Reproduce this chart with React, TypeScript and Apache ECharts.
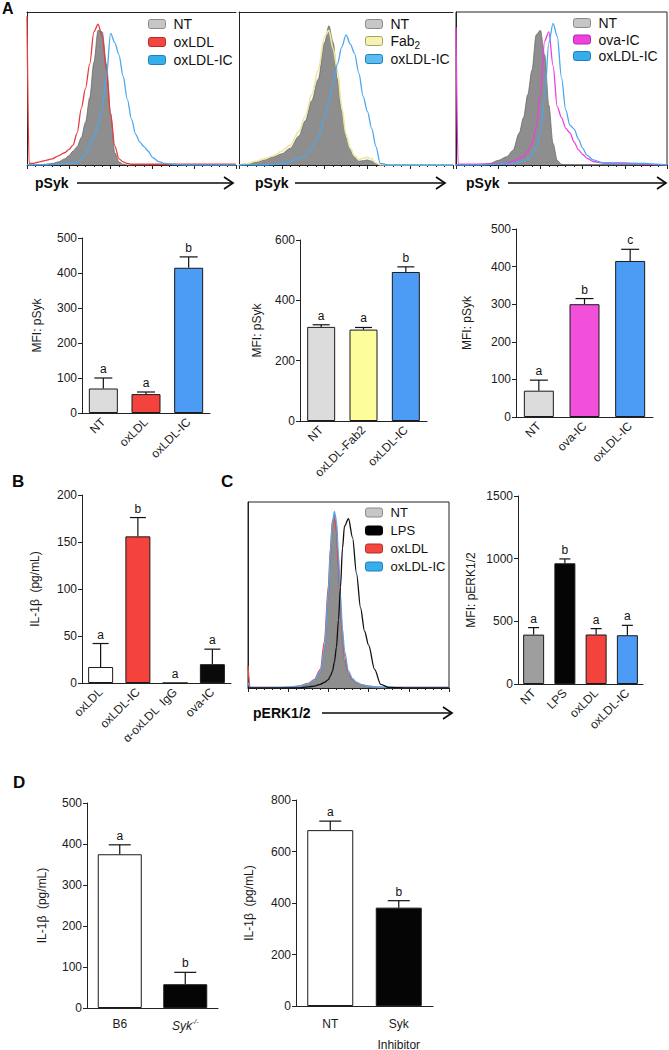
import React, { useEffect, useRef } from "react";
import * as echarts from "echarts";

const FONT = "'Liberation Sans', Arial, Helvetica, sans-serif";

// ---------------- Panel A flow histograms (x: channel, % of axis; y: % of max count) -------------
const a1X = [0, 1, 3, 6, 9, 12, 15, 18, 20, 22, 24, 26, 28, 30, 32, 34, 36, 38, 40, 42, 44, 46, 48, 50, 52, 54, 56, 58, 60, 63, 66, 70, 75, 80, 90, 100];
const a1NT = [0, 0, 0, 0.3, 0.5, 1, 2, 4, 6, 9, 12, 18, 28, 44, 67, 88, 87, 66, 34, 8, 2, 0.5, 0, 0, 0, 0, 0, 0, 0, 0, 0, 0, 0, 0, 0, 0];
const a1OxLDL = [97, 1, 1, 2, 3, 4, 6, 8, 10, 13, 21, 37, 50, 66, 87, 92, 84, 62, 33, 12.5, 4, 2, 1, 0.5, 0.5, 0.5, 0.5, 0.5, 0.5, 0.5, 0.5, 0.5, 0.5, 0.5, 0.5, 0.5];
const a1OxLDLIC = [0, 0, 0, 0, 0, 0.2, 0.5, 1, 1.2, 1.6, 2, 4, 7, 12, 18, 26, 37, 58, 86, 80, 72, 58, 43, 30, 20, 15, 12, 9, 5, 2.2, 1, 0.5, 0, 0, 0, 0];

const a2X = [0, 4, 8, 12, 16, 20, 24, 28, 31, 34, 37, 40, 42, 44, 46, 48, 50, 52, 54, 56, 58, 60, 62, 64, 66, 70, 80, 100];
const a2NT = [0, 0.8, 2, 3.5, 5.2, 7.3, 11, 19, 29, 42, 56, 80, 91, 80, 56, 35, 18, 10, 5, 2.5, 2.8, 3.3, 2.5, 1, 0, 0, 0, 0];
const a2Fab2 = [0, 1, 2.5, 4, 6, 9, 13, 22, 32, 46, 62, 84, 88, 76, 62, 38, 20, 11, 6, 3.5, 4.5, 5, 4, 1.5, 0, 0, 0, 0];
const a2OxLDLIC = [0, 0, 0, 0, 0.3, 1, 2.5, 4.5, 6, 11, 18, 31, 41, 53, 66, 77, 85, 79, 73, 60, 45, 35, 24, 12, 1, 0, 0, 0];

const a3X = [0, 1, 4, 8, 12, 16, 20, 24, 27, 30, 32, 34, 36, 38, 40, 42, 44, 46, 48, 50, 52, 54, 56, 58, 60, 62, 65, 70, 75, 80, 85, 90, 95, 100];
const a3NT = [0, 0, 0, 0, 0.5, 1, 3, 5.4, 9.5, 21, 31, 46, 62, 85, 88, 72, 39, 14, 3, 0.5, 0, 0, 0, 0, 0, 0, 0, 0, 0, 0, 0, 0, 0, 0];
const a3OvaIC = [90, 0.5, 0.5, 0.5, 0.5, 0.5, 0.8, 1, 2.5, 4.5, 5.5, 9, 14, 24, 46, 81, 87, 65, 38, 31, 24, 21, 15, 10, 7, 4.5, 2.3, 1.3, 1.3, 1.4, 1, 0.6, 0.3, 0];
const a3OxLDLIC = [0, 0, 0, 0, 0, 0.2, 0.5, 0.8, 1, 1.8, 2.5, 4, 7, 11, 22, 44, 80, 92.5, 84, 57, 36, 26, 23.5, 17, 11, 6.5, 3.3, 1.3, 1, 0.9, 1, 1.1, 0.5, 0];

// ---------------- Panel C flow histogram (pERK1/2) ----------------
const cX = [0, 1, 5, 10, 15, 20, 25, 30, 33, 36, 38, 40, 41, 42, 43, 44, 45, 46, 47, 48, 50, 52, 54, 56, 58, 60, 63, 66, 70, 80, 90, 100];
const cNT = [0, 0, 0, 0, 0, 0.2, 0.6, 1.8, 3.5, 8.5, 21, 50, 71, 86.5, 93, 87, 66, 42, 25, 15, 7, 4, 2.5, 1.5, 1, 0.5, 0, 0, 0, 0, 0, 0];
const cLPS = [0, 0, 0, 0, 0, 0, 0, 0.6, 1, 2, 3, 4.5, 6.5, 9, 14, 22, 36.5, 54, 75, 87, 91, 81, 61.5, 43, 30.5, 23, 10, 2, 0.3, 0, 0, 0];
const cOxLDL = [12, 0.3, 0.3, 0.3, 0.3, 0.4, 1, 2.5, 4.5, 10, 25, 55, 75, 90, 91, 84, 65, 45, 28, 17, 8, 4.5, 3, 2, 1.3, 1, 0.6, 0.4, 0.3, 0.3, 0.3, 0.3];
const cOxLDLIC = [3, 0.3, 0.3, 0.3, 0.3, 0.5, 1, 2.2, 4, 9, 21, 52, 73, 89, 95, 90, 72, 50, 32, 20, 9, 5, 3, 2, 1.5, 1, 0.6, 0.4, 0.4, 0.3, 0.3, 0.3];

// ---------------- Bar charts ----------------
const a1Cats = ["NT", "oxLDL", "oxLDL-IC"];
const a1Vals = [70, 54, 415];
const a1Errs = [30, 6, 31];
const a1Letters = ["a", "a", "b"];

const a2Cats = ["NT", "oxLDL-Fab2", "oxLDL-IC"];
const a2Vals = [312, 303, 494];
const a2Errs = [7, 7, 17];
const a2Letters = ["a", "a", "b"];

const a3Cats = ["NT", "ova-IC", "oxLDL-IC"];
const a3Vals = [70, 300, 415];
const a3Errs = [28, 15, 31];
const a3Letters = ["a", "b", "c"];

const bCats = ["oxLDL", "oxLDL-IC", "α-oxLDL  IgG", "ova-IC"];
const bVals = [17, 156, 0, 20];
const bErrs = [25, 20, 0, 16];
const bLetters = ["a", "b", "a", "a"];

const cCats = ["NT", "LPS", "oxLDL", "oxLDL-IC"];
const cVals = [394, 963, 395, 389];
const cErrs = [56, 35, 47, 79];
const cLetters = ["a", "b", "a", "a"];

const d1Cats = ["B6", "Syk-/-"];
const d1Vals = [375, 58];
const d1Errs = [23, 29];
const d1Letters = ["a", "b"];

const d2Cats = ["NT", "Syk\nInhibitor"];
const d2Vals = [683, 382];
const d2Errs = [35, 27];
const d2Letters = ["a", "b"];

const LABELS: Record<string, string> = {
  "h1-NT": "NT", "h1-ox": "oxLDL", "h1-ic": "oxLDL-IC",
  "h2-NT": "NT", "h2-fab": "{n|Fab}{s|2}", "h2-ic": "oxLDL-IC",
  "h3-NT": "NT", "h3-ova": "ova-IC", "h3-ic": "oxLDL-IC",
  "hc-NT": "NT", "hc-lps": "LPS", "hc-ox": "oxLDL", "hc-ic": "oxLDL-IC",
};

function buildOption() {
  const grid: any[] = [];
  const xAxis: any[] = [];
  const yAxis: any[] = [];
  const series: any[] = [];
  const legend: any[] = [];
  const AX = "#222";
  const tickLabel = { fontSize: 12, color: "#1a1a1a", fontFamily: FONT };

  const addHist = (g: any, xs: number[], curves: any[], openBox: boolean, leg: any) => {
    const gi = grid.length;
    grid.push({ left: g.l, top: g.t, width: g.w, height: g.h, show: !openBox, borderColor: AX, borderWidth: 1, containLabel: false, outerBoundsMode: "none" });
    const xi = xAxis.length;
    xAxis.push({
      type: "value", gridIndex: gi, min: 0, max: 100, interval: 20,
      axisLine: { show: true, onZero: false, lineStyle: { color: AX, width: 1 } },
      axisTick: { show: true, inside: false, length: 4, lineStyle: { color: AX } },
      minorTick: { show: true, splitNumber: 5, length: 2, lineStyle: { color: AX } },
      axisLabel: { show: false }, splitLine: { show: false }, minorSplitLine: { show: false },
    });
    if (openBox) {
      xAxis.push({
        type: "value", gridIndex: gi, position: "top", min: 0, max: 100,
        axisLine: { show: true, onZero: false, lineStyle: { color: AX, width: 1 } },
        axisTick: { show: false }, axisLabel: { show: false }, splitLine: { show: false },
      });
    }
    const yi = yAxis.length;
    yAxis.push({
      type: "value", gridIndex: gi, min: 0, max: 100,
      axisLine: { show: true, onZero: false, lineStyle: { color: AX, width: 1 } },
      axisTick: { show: false }, axisLabel: { show: false }, splitLine: { show: false },
    });
    curves.forEach((c) => {
      series.push({
        type: "line", name: c.id, xAxisIndex: xi, yAxisIndex: yi,
        data: xs.map((x, i) => [x, c.data[i]]),
        showSymbol: false, symbol: "none", smooth: 0.3, smoothMonotone: "x",
        lineStyle: { color: c.line, width: c.width ?? 1.3 },
        itemStyle: { color: c.line },
        areaStyle: c.fill ? { color: c.fill, opacity: 1 } : undefined,
        z: c.z ?? 3, silent: true,
      });
    });
    legend.push({
      orient: "vertical", left: leg.l, top: leg.t, padding: 0,
      itemWidth: 17, itemHeight: 9, itemGap: leg.gap, icon: "roundRect", selectedMode: false,
      data: curves.map((c) => ({ name: c.id, itemStyle: { color: c.sw, borderColor: c.swb, borderWidth: 1 } })),
      formatter: (n: string) => LABELS[n],
      textStyle: {
        fontSize: leg.fs, fontFamily: FONT, color: "#111", lineHeight: leg.lh, padding: [0, 0, 0, 3],
        rich: {
          n: { fontSize: leg.fs, fontFamily: FONT, color: "#111" },
          s: { fontSize: 10, fontFamily: FONT, color: "#111", padding: [8, 0, 0, 0] },
        },
      },
    });
  };

  const addBars = (g: any, cats: string[], vals: number[], errs: number[], letters: string[], colors: string[], y: any, bw: number, cap: number, xl: any) => {
    const gi = grid.length;
    grid.push({ left: g.l, top: g.t, width: g.w, height: g.h, containLabel: false, outerBoundsMode: "none" });
    const xi = xAxis.length;
    xAxis.push({
      type: "category", gridIndex: gi, data: cats,
      axisLine: { show: true, lineStyle: { color: AX, width: 1 } },
      axisTick: { show: false }, splitLine: { show: false },
      axisLabel: {
        ...tickLabel, rotate: xl.rotate, margin: xl.margin, interval: 0,
        lineHeight: xl.lineHeight, formatter: xl.formatter, rich: xl.rich,
      },
    });
    const yi = yAxis.length;
    yAxis.push({
      type: "value", gridIndex: gi, min: 0, max: y.max, interval: y.interval,
      axisLine: { show: true, lineStyle: { color: AX, width: 1 } },
      axisTick: { show: true, length: 4, lineStyle: { color: AX } },
      axisLabel: { ...tickLabel, margin: 5, showMinLabel: true, showMaxLabel: true, formatter: (v: number) => String(v) },
      splitLine: { show: false },
      name: y.name, nameLocation: "middle", nameGap: y.gap,
      nameTextStyle: { fontSize: 12, fontFamily: FONT, color: "#1a1a1a" },
    });
    series.push({
      type: "bar", xAxisIndex: xi, yAxisIndex: yi, barWidth: bw, silent: true, z: 2,
      data: vals.map((v, i) => ({ value: v, itemStyle: { color: colors[i] } })),
      itemStyle: { borderColor: "#1a1a1a", borderWidth: 1 },
    });
    series.push({
      type: "custom", xAxisIndex: xi, yAxisIndex: yi, z: 5, silent: true,
      data: vals.map((v, i) => [i, v, errs[i]]),
      encode: { x: 0, y: 1 },
      renderItem: (params: any, api: any) => {
        const i = api.value(0);
        const v = api.value(1);
        const e = api.value(2);
        const p0 = api.coord([i, v]);
        const p1 = api.coord([i, v + e]);
        const st = { stroke: "#111", lineWidth: 1.2 };
        const ch: any[] = [];
        if (e > 0) {
          ch.push({ type: "line", shape: { x1: p0[0], y1: p0[1], x2: p1[0], y2: p1[1] }, style: st });
          ch.push({ type: "line", shape: { x1: p1[0] - cap / 2, y1: p1[1], x2: p1[0] + cap / 2, y2: p1[1] }, style: st });
        }
        ch.push({
          type: "text", x: p1[0], y: p1[1] - 3,
          style: { text: letters[params.dataIndex], fill: "#111", font: `12px ${FONT}`, align: "center", verticalAlign: "bottom" },
        });
        return { type: "group", children: ch };
      },
    });
  };

  // ---- Panel A histograms
  const NTFILL = "#8e8e8e", NTLINE = "#6a6a6a", NTSW = "#c6c6c6", NTSWB = "#8a8a8a";
  addHist({ l: 27, t: 12, w: 209, h: 153 }, a1X, [
    { id: "h1-NT", data: a1NT, line: NTLINE, fill: NTFILL, width: 0.8, z: 1, sw: NTSW, swb: NTSWB },
    { id: "h1-ox", data: a1OxLDL, line: "#e63c40", sw: "#f2463f", swb: "#b82a2a" },
    { id: "h1-ic", data: a1OxLDLIC, line: "#4aa8f0", sw: "#36aeea", swb: "#1f7fbf" },
  ], true, { l: 148, t: 16, gap: 2, fs: 14, lh: 16 });
  addHist({ l: 239, t: 12, w: 214, h: 153 }, a2X, [
    { id: "h2-NT", data: a2NT, line: NTLINE, fill: NTFILL, width: 0.8, z: 1, sw: NTSW, swb: NTSWB },
    { id: "h2-fab", data: a2Fab2, line: "#ede7a0", width: 1.6, sw: "#f6f2b4", swb: "#a8a060" },
    { id: "h2-ic", data: a2OxLDLIC, line: "#4aa8f0", sw: "#5bbcf0", swb: "#1f7fbf" },
  ], true, { l: 365, t: 16, gap: 1, fs: 14, lh: 16 });
  addHist({ l: 456, t: 12, w: 211, h: 153 }, a3X, [
    { id: "h3-NT", data: a3NT, line: NTLINE, fill: NTFILL, width: 0.8, z: 1, sw: NTSW, swb: NTSWB },
    { id: "h3-ova", data: a3OvaIC, line: "#ee3de0", sw: "#f040e0", swb: "#b02aa8" },
    { id: "h3-ic", data: a3OxLDLIC, line: "#4aa8f0", sw: "#36aeea", swb: "#1f7fbf" },
  ], false, { l: 573, t: 15, gap: 0.5, fs: 14, lh: 16 });

  // ---- Panel A bars
  addBars({ l: 82, t: 238, w: 128, h: 175 }, a1Cats, a1Vals, a1Errs, a1Letters, ["#dcdcdc", "#f4433c", "#4c9bf5"],
    { max: 500, interval: 100, name: "MFI: pSyk", gap: 39 }, 29, 18, { rotate: 45, margin: 7 });
  addBars({ l: 300, t: 240, w: 127, h: 181 }, a2Cats, a2Vals, a2Errs, a2Letters, ["#dcdcdc", "#fdfd9b", "#4c9bf5"],
    { max: 600, interval: 200, name: "MFI: pSyk", gap: 37 }, 28, 17, { rotate: 45, margin: 7 });
  addBars({ l: 516, t: 229, w: 137, h: 188 }, a3Cats, a3Vals, a3Errs, a3Letters, ["#dcdcdc", "#f24fdb", "#4c9bf5"],
    { max: 500, interval: 100, name: "MFI: pSyk", gap: 43 }, 30, 18, { rotate: 45, margin: 7 });

  // ---- Panel B
  addBars({ l: 82, t: 495, w: 149, h: 188 }, bCats, bVals, bErrs, bLetters, ["#ffffff", "#f4433c", "#ffffff", "#0a0a0a"],
    { max: 200, interval: 50, name: "IL-1β  (pg/mL)", gap: 41 }, 25, 16, { rotate: 45, margin: 7 });

  // ---- Panel C histogram
  addHist({ l: 248, t: 502, w: 201, h: 186 }, cX, [
    { id: "hc-NT", data: cNT, line: NTLINE, fill: NTFILL, width: 0.8, z: 1, sw: NTSW, swb: NTSWB },
    { id: "hc-lps", data: cLPS, line: "#111111", z: 4, sw: "#000000", swb: "#000000" },
    { id: "hc-ox", data: cOxLDL, line: "#e8474a", sw: "#f2463f", swb: "#b82a2a" },
    { id: "hc-ic", data: cOxLDLIC, line: "#58a6ea", sw: "#36aeea", swb: "#1f7fbf" },
  ], false, { l: 365, t: 505, gap: 3, fs: 13, lh: 15 });

  // ---- Panel C bars
  addBars({ l: 518, t: 496, w: 125, h: 188 }, cCats, cVals, cErrs, cLetters, ["#9e9e9e", "#050505", "#f4433c", "#4c9bf5"],
    { max: 1500, interval: 500, name: "MFI: pERK1/2", gap: 41 }, 21, 11, { rotate: 45, margin: 7 });

  // ---- Panel D
  addBars({ l: 87, t: 803, w: 131, h: 205 }, d1Cats, d1Vals, d1Errs, d1Letters, ["#ffffff", "#050505"],
    { max: 500, interval: 100, name: "IL-1β  (pg/mL)", gap: 39 }, 44, 22, {
      rotate: 0, margin: 10,
      formatter: (v: string) => (v === "Syk-/-" ? "{i|Syk}{sup|-/-}" : v),
      rich: {
        i: { fontSize: 12, fontStyle: "italic", fontFamily: FONT, color: "#1a1a1a" },
        sup: { fontSize: 7, fontStyle: "italic", fontFamily: FONT, color: "#1a1a1a", padding: [0, 0, 8, 0] },
      },
    });
  addBars({ l: 296, t: 800, w: 137, h: 206 }, d2Cats, d2Vals, d2Errs, d2Letters, ["#ffffff", "#050505"],
    { max: 800, interval: 200, name: "IL-1β  (pg/mL)", gap: 41 }, 46, 22, { rotate: 0, margin: 7, lineHeight: 21 });

  const txt = (s: string, x: number, y: number, font: string, va = "middle") => ({
    type: "text", x, y, silent: true, style: { text: s, font, fill: "#0a0a0a", verticalAlign: va, align: "left" },
  });
  const arrow = (x1: number, x2: number, y: number) => [
    { type: "line", silent: true, shape: { x1, y1: y, x2, y2: y }, style: { stroke: "#0a0a0a", lineWidth: 1.7 } },
    { type: "polyline", silent: true, shape: { points: [[x2 - 9, y - 6], [x2, y], [x2 - 9, y + 6]] }, style: { stroke: "#0a0a0a", lineWidth: 1.7, fill: null } },
  ];
  const graphic: any[] = [
    txt("A", 2, 0, `bold 16px ${FONT}`, "top"),
    txt("B", 12, 473, `bold 17px ${FONT}`, "top"),
    txt("C", 221, 473, `bold 17px ${FONT}`, "top"),
    txt("D", 13, 774, `bold 17px ${FONT}`, "top"),
    txt("pSyk", 35, 183, `bold 14px ${FONT}`),
    txt("pSyk", 255, 183, `bold 14px ${FONT}`),
    txt("pSyk", 466, 183, `bold 14px ${FONT}`),
    txt("pERK1/2", 253, 713, `bold 14px ${FONT}`),
    ...arrow(77, 233, 183),
    ...arrow(295, 445, 183),
    ...arrow(508, 666, 183),
    ...arrow(322, 452, 713),
  ];

  return {
    animation: false,
    backgroundColor: "#ffffff",
    textStyle: { fontFamily: FONT },
    grid, xAxis, yAxis, series, legend, graphic,
  };
}

export default function App() {
  const ref = useRef<HTMLDivElement>(null);
  useEffect(() => {
    if (!ref.current) return;
    const chart = echarts.init(ref.current, null, { renderer: "svg" });
    chart.setOption(buildOption() as any);
    return () => chart.dispose();
  }, []);
  return (
    <div
      ref={ref}
      style={{ position: "absolute", left: 0, top: 0, width: 669, height: 1050, background: "#fff" }}
    />
  );
}
